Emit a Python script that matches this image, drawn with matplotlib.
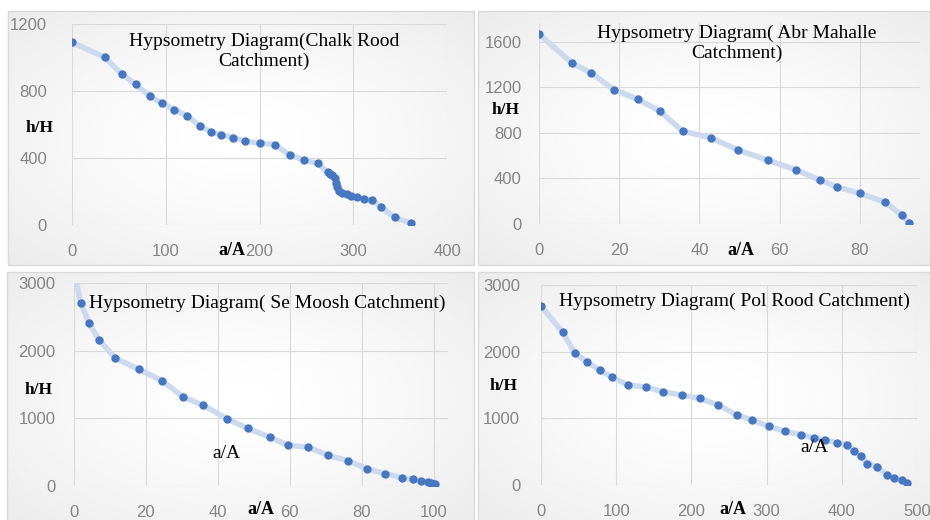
import numpy as np
import matplotlib
matplotlib.use('Agg')
from matplotlib import pyplot as plt
from matplotlib.patches import Rectangle

# values
chalk_x = [0, 35, 53, 68, 83, 96, 109, 123, 137, 148, 159, 172, 185, 201, 216, 232, 247, 262,
           273, 275, 277, 280, 282, 283, 285, 288, 293, 298, 304, 311, 320, 330, 344, 362]
chalk_y = [1090, 1001, 901, 840, 770, 726, 689, 651, 589, 557, 539, 521, 500, 488, 480, 420, 388, 368,
           314, 306, 298, 279, 249, 225, 205, 189, 183, 175, 165, 155, 149, 106, 46, 10]

abr_x = [0, 8.2, 13, 18.6, 24.7, 30.1, 35.8, 42.8, 49.7, 57, 64.2, 70, 74.3, 80, 86.2, 90.4, 92.3]
abr_y = [1667, 1415, 1327, 1181, 1094, 991, 816, 757, 649, 561, 474, 386, 327, 269, 193, 79, 6]

semoosh_x = [0, 1.95, 4.1, 6.9, 11.5, 18.1, 24.4, 30.3, 36, 42.5, 48.3, 54.4, 59.6, 65.2, 70.6,
             76.2, 81.4, 86.6, 91.2, 94.2, 96.5, 98.4, 99.4, 100, 100.5]
semoosh_y = [3150, 2705, 2410, 2164, 1889, 1722, 1559, 1318, 1190, 994, 851, 723, 600, 575, 452,
             374, 256, 182, 123, 98, 79, 59, 49, 34, 25]

pol_x = [0, 28.8, 45.3, 61.7, 78.1, 94, 116, 140, 162, 187, 211, 236, 260, 280, 303.5, 324, 346,
         363, 378, 394, 407, 416, 426, 433.5, 447, 460, 470, 480, 486.7]
pol_y = [2687, 2290, 1973, 1844, 1720, 1621, 1497, 1472, 1398, 1349, 1299, 1200, 1051, 977, 878,
         803, 754, 704, 679, 630, 605, 506, 431, 322, 273, 149, 99, 69, 25]

titles = [['Hypsometry Diagram(Chalk Rood', 'Catchment)'],
          ['Hypsometry Diagram( Abr Mahalle', 'Catchment)'],
          ['Hypsometry Diagram( Se Moosh Catchment)'],
          ['Hypsometry Diagram( Pol Rood Catchment)']]
xticks = [[0, 100, 200, 300, 400], [0, 20, 40, 60, 80], [0, 20, 40, 60, 80, 100], [0, 100, 200, 300, 400, 500]]
yticks = [[0, 400, 800, 1200], [0, 400, 800, 1200, 1600], [0, 1000, 2000, 3000], [0, 1000, 2000, 3000]]

W, H = 930, 520
SERIF = 'Liberation Serif'
TICKFONT = 'Liberation Sans'


def box(l, t, r, b):
    return [l / W, 1 - b / H, (r - l) / W, (b - t) / H]


def ftext(x, y, s, **kw):
    fig.text(x / W, 1 - y / H, s, ha='center', va='center', **kw)


fig = plt.figure(figsize=(W / 100, H / 100), dpi=100)

chart_boxes = [(8, 11, 474, 265), (478, 11, 934, 265), (7, 272, 474, 526), (478, 272, 934, 526)]
u, v = np.meshgrid(np.linspace(-1, 1, 200), np.linspace(-1, 1, 120))
grad = 1 - 0.08 * (np.sqrt(u ** 2 + v ** 2) / np.sqrt(2)) ** 1.4
for l, t, r, b in chart_boxes:
    bg = fig.add_axes(box(l, t, r, b), zorder=0)
    bg.imshow(grad, cmap='gray', vmin=0, vmax=1, aspect='auto', interpolation='bilinear')
    bg.axis('off')
    fig.patches.append(Rectangle((l / W, 1 - b / H), (r - l) / W, (b - t) / H,
                                 transform=fig.transFigure, fill=False, ec='#d9d9d9', lw=1.0, zorder=1))

plot_boxes = [(72, 24, 447, 225), (539, 23, 920, 224), (74, 283, 448, 486), (541, 285, 917, 485)]
limits = [((0, 400), (0, 1200)), ((0, 95), (0, 1765)), ((0, 104), (0, 3000)), ((0, 500), (0, 3000))]
series = [(chalk_x, chalk_y), (abr_x, abr_y), (semoosh_x, semoosh_y), (pol_x, pol_y)]
ypads = [18, 12.5, 13.5, 15]

for i in range(4):
    ax = fig.add_axes(box(*plot_boxes[i]), zorder=2)
    ax.set_facecolor('none')
    xs, ys = series[i]
    ax.plot(xs, ys, color='#cddaee', lw=4, solid_capstyle='round', solid_joinstyle='round', zorder=2)
    ax.plot(xs, ys, ls='none', marker='o', ms=5, color='#4677c0', zorder=3)
    ax.set_xlim(limits[i][0])
    ax.set_ylim(limits[i][1])
    ax.set_xticks(xticks[i])
    ax.set_yticks(yticks[i])
    ax.grid(True, color='#d9d9d9', lw=0.8)
    ax.set_axisbelow(True)
    for s in ax.spines.values():
        s.set_visible(False)
    ax.tick_params(length=0, colors='#858585', labelsize=12)
    ax.tick_params(axis='x', pad=14)
    ax.tick_params(axis='y', pad=ypads[i])
    for lab in ax.get_xticklabels() + ax.get_yticklabels():
        lab.set_family(TICKFONT)

# titles
ftext(264, 41.7, titles[0][0], family=SERIF, fontsize=14, zorder=5)
ftext(264, 61.7, titles[0][1], family=SERIF, fontsize=14, zorder=5)
ftext(737, 33, titles[1][0], family=SERIF, fontsize=14, zorder=5)
ftext(737, 53, titles[1][1], family=SERIF, fontsize=14, zorder=5)
ftext(267.5, 303.7, titles[2][0], family=SERIF, fontsize=14, zorder=5)
ftext(734, 301, titles[3][0], family=SERIF, fontsize=14, zorder=5)

# axis labels
for x, y in [(40, 128), (505.7, 110), (39, 390), (504, 386)]:
    ftext(x, y, 'h/H', family=SERIF, fontsize=12.5, fontweight='bold', zorder=5)
for x, y in [(231.7, 250), (741, 250.7), (261, 510), (733, 510)]:
    ftext(x, y, 'a/A', family=SERIF, fontsize=13, fontweight='bold', zorder=5)
ftext(226, 453.7, 'a/A', family=SERIF, fontsize=14, zorder=5)
ftext(814, 447.7, 'a/A', family=SERIF, fontsize=14, zorder=5)

fig.savefig('out.png', dpi=100)
